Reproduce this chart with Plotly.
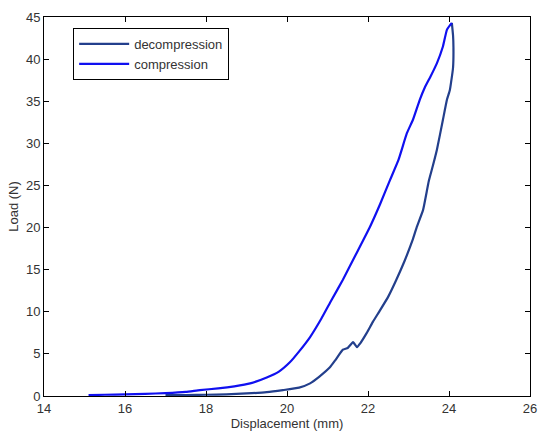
import plotly.graph_objects as go

# Data
decomp_x = [24.07, 24.10, 24.11, 24.10, 24.05, 24.02, 23.95, 23.85, 23.70, 23.60, 23.50, 23.36, 23.20, 23.10, 22.90,
            22.70, 22.50, 22.30, 22.12, 21.97, 21.80, 21.73, 21.63, 21.50, 21.38, 21.20,
            21.06, 20.80, 20.57, 20.30, 19.90, 19.50, 19.00, 18.50, 18.00, 17.50, 17.00]
decomp_y = [44.3, 42.8, 41.4, 39.0, 37.2, 36.3, 35.2, 32.8, 29.2, 27.3, 25.5, 22.1, 20.0, 18.5, 16.0,
            13.8, 11.8, 10.2, 8.8, 7.5, 6.2, 5.8, 6.4, 5.7, 5.5, 4.3,
            3.4, 2.3, 1.5, 1.0, 0.7, 0.45, 0.3, 0.2, 0.15, 0.1, 0.1]

comp_x = [15.10, 15.50, 16.00, 16.50, 17.00, 17.50, 17.85, 18.30, 18.70, 19.09, 19.50,
          19.80, 20.07, 20.30, 20.57, 20.85, 21.10, 21.38, 21.70, 22.05, 22.30, 22.54,
          22.75, 22.96, 23.11, 23.28, 23.40, 23.55, 23.70, 23.85, 23.95, 24.07]
comp_y = [0.1, 0.15, 0.2, 0.25, 0.35, 0.5, 0.7, 0.9, 1.15, 1.5, 2.2,
          2.9, 4.0, 5.3, 7.0, 9.2, 11.4, 13.8, 16.8, 20.1, 22.8, 25.6,
          28.0, 31.2, 32.8, 35.2, 36.6, 38.0, 39.5, 41.5, 43.5, 44.3]

x_ticks = [14, 16, 18, 20, 22, 24, 26]
y_ticks = [0, 5, 10, 15, 20, 25, 30, 35, 40, 45]

FONT = "Liberation Sans, Arial, sans-serif"
FS = 13

fig = go.Figure()
fig.add_trace(go.Scatter(x=decomp_x, y=decomp_y, mode="lines", name="decompression",
                         line=dict(color="#233f8c", width=2.2, shape="spline", smoothing=0.4)))
fig.add_trace(go.Scatter(x=comp_x, y=comp_y, mode="lines", name="compression",
                         line=dict(color="#1010f0", width=2.2, shape="spline", smoothing=0.4)))

axis_common = dict(showline=True, linecolor="black", linewidth=1, mirror="ticks",
                   ticks="inside", ticklen=5, tickcolor="black", showgrid=False,
                   zeroline=False,
                   tickfont=dict(family=FONT, size=FS, color="#333"))

fig.update_layout(
    width=544, height=440,
    margin=dict(l=44, r=14, t=17, b=44),
    paper_bgcolor="white", plot_bgcolor="white",
    font=dict(family=FONT, size=FS, color="#333"),
    xaxis=dict(range=[14, 26], tickvals=x_ticks, automargin="height",
               title=dict(text="Displacement (mm)", font=dict(size=FS), standoff=2),
               **axis_common),
    yaxis=dict(range=[0, 45], tickvals=y_ticks, automargin="width",
               title=dict(text="Load (N)", font=dict(size=FS), standoff=4),
               **axis_common),
    legend=dict(x=0.06, y=0.971, xanchor="left", yanchor="top",
                bgcolor="white", bordercolor="black", borderwidth=1,
                font=dict(family=FONT, size=FS, color="#333"), tracegroupgap=0,
                itemwidth=50),
    showlegend=True,
)

fig.write_html("out.html")
